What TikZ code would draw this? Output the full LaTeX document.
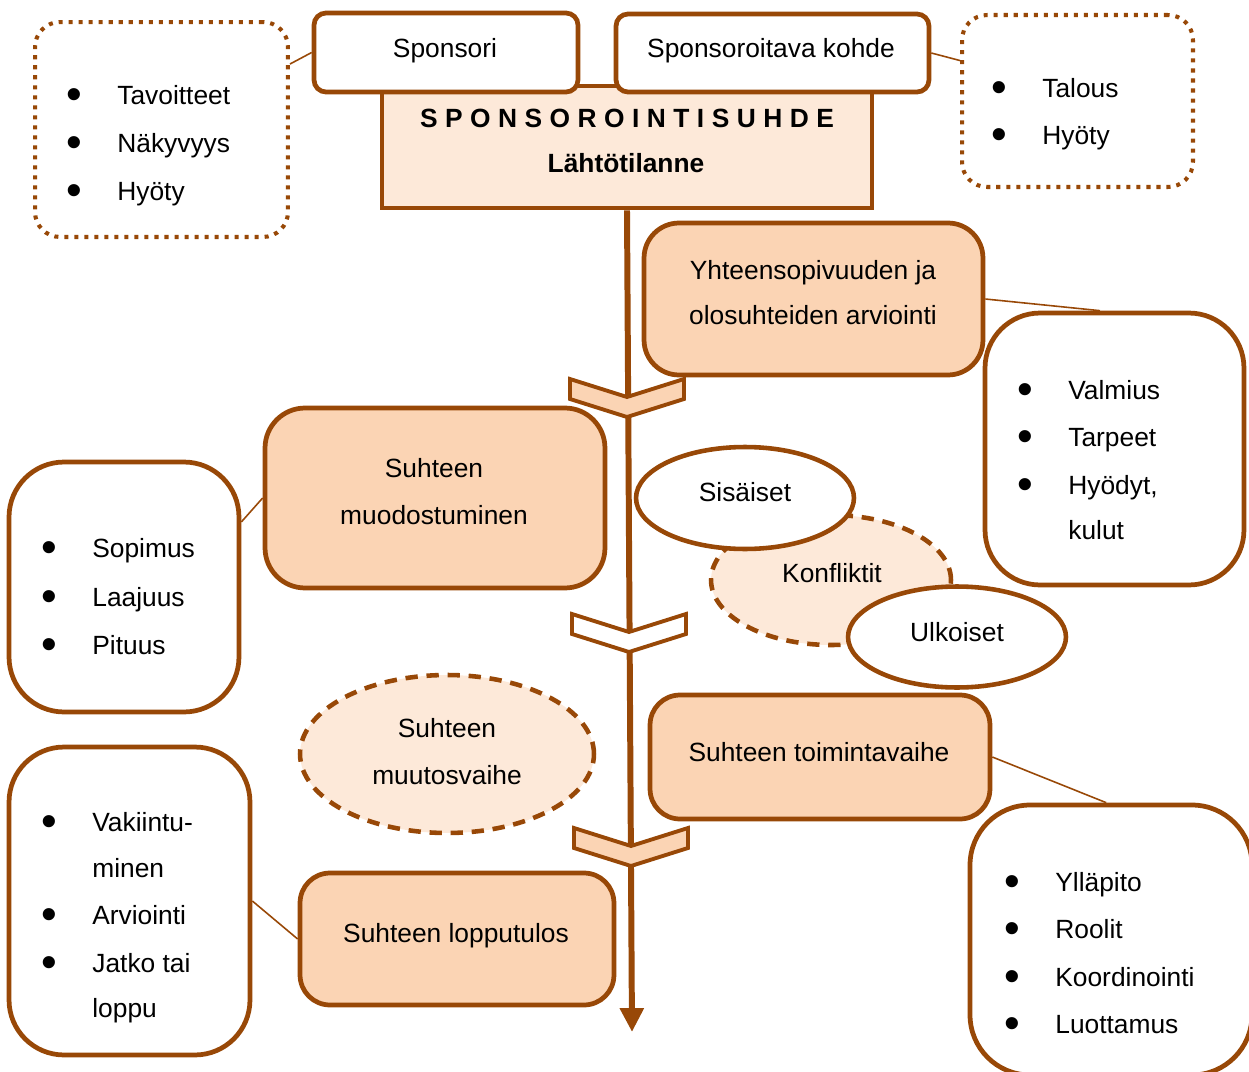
\documentclass[tikz,border=0pt]{standalone}
\usepackage{fontspec}
\setmainfont{Liberation Sans}
\usetikzlibrary{shapes.geometric,arrows.meta}
\definecolor{brn}{HTML}{984807}
\definecolor{peach}{HTML}{FBD4B4}
\definecolor{lightpeach}{HTML}{FDE9D9}
\newcommand{\mybul}{\llap{\raisebox{-0.2em}{\scalebox{1.7}{\textbullet}}\hspace{0.695cm}}}
\begin{document}
\begin{tikzpicture}[x=0.02cm,y=-0.02cm,
  font=\fontsize{15pt}{27pt}\selectfont,
  rbox/.style={rectangle,draw=brn,line width=2.7pt,inner sep=0pt},
  dotbox/.style={rectangle,draw=brn,line width=2.3pt,dash pattern=on 2.3pt off 3.4pt,rounded corners=0.5cm,inner sep=0pt,fill=white},
  dashell/.style={ellipse,draw=brn,line width=2.6pt,dash pattern=on 7pt off 5pt,fill=lightpeach,inner sep=0pt},
  solell/.style={ellipse,draw=brn,line width=2.6pt,fill=white,inner sep=0pt},
  chev/.style={draw=brn,line width=2.2pt,line join=miter},
  conn/.style={draw=brn,line width=0.9pt},
  mainarrow/.style={draw=brn,line width=3.4pt,-{Triangle[length=13.6pt,width=13pt]}},
  item/.style={anchor=base west,inner sep=0pt},
  lbl/.style={anchor=base,inner sep=0pt}]
\useasboundingbox (0,0) rectangle (1249,1072);
\clip (0,0) rectangle (1249,1072);

% top dotted boxes
\node[dotbox,minimum width=5.06cm,minimum height=4.3cm] (dotL) at (161.5,129.5) {};
\node[dotbox,minimum width=4.62cm,minimum height=3.44cm] (dotR) at (1077.5,101) {};

% main box and top boxes
\node[rbox,fill=lightpeach,minimum width=9.8cm,minimum height=2.44cm] (main) at (627,147) {};
\node[rbox,fill=white,rounded corners=0.24cm,minimum width=5.28cm,minimum height=1.58cm] (spons) at (446,52.5) {};
\node[rbox,fill=white,rounded corners=0.24cm,minimum width=6.26cm,minimum height=1.56cm] (kohde) at (772.5,53) {};

% main vertical arrow
\coordinate (arrEnd) at (632,1032);
\draw[mainarrow] (main.south) -- (arrEnd);

% chevrons
\draw[chev,fill=peach] (570,379) -- (627,397) -- (684,379) -- (684,399) -- (627,417) -- (570,399) -- cycle;
\draw[chev,fill=white] (572,614) -- (629,632) -- (686,614) -- (686,634) -- (629,652) -- (572,634) -- cycle;
\draw[chev,fill=peach] (574,828) -- (631,846) -- (688,828) -- (688,848) -- (631,866) -- (574,848) -- cycle;

% phase boxes
\node[rbox,fill=peach,rounded corners=0.7cm,minimum width=6.78cm,minimum height=3.04cm] (yht) at (813.5,299) {};
\node[rbox,fill=peach,rounded corners=0.8cm,minimum width=6.8cm,minimum height=3.6cm] (muod) at (435,498) {};
\node[rbox,fill=peach,rounded corners=0.6cm,minimum width=6.8cm,minimum height=2.48cm] (toim) at (820,757) {};
\node[rbox,fill=peach,rounded corners=0.6cm,minimum width=6.28cm,minimum height=2.64cm] (lopp) at (457,939) {};

% bullet boxes
\node[rbox,fill=white,rounded corners=1.1cm,minimum width=5.18cm,minimum height=5.44cm] (valm) at (1114.5,449) {};
\node[rbox,fill=white,rounded corners=1.1cm,minimum width=4.6cm,minimum height=5.0cm] (sopi) at (124,587) {};
\node[rbox,fill=white,rounded corners=1.2cm,minimum width=5.64cm,minimum height=5.4cm] (ylla) at (1111,940) {};
\node[rbox,fill=white,rounded corners=1.1cm,minimum width=4.82cm,minimum height=6.16cm] (vaki) at (129.5,901) {};

% ellipses
\node[dashell,minimum width=4.8cm,minimum height=2.6cm] (konf) at (831,580) {};
\node[solell,minimum width=4.36cm,minimum height=2.04cm] (sis) at (745,498) {};
\node[solell,minimum width=4.36cm,minimum height=2.02cm] (ulk) at (957,637) {};
\node[dashell,minimum width=5.88cm,minimum height=3.16cm] (muut) at (447,754) {};

% connectors
\draw[conn] (dotL.27.7) -- (spons.west);
\draw[conn] (kohde.east) -- (dotR.161.8);
\draw[conn] (yht.east) -- (valm.96);
\draw[conn] (sopi.29.1) -- (muod.west);
\draw[conn] (toim.east) -- (ylla.92);
\draw[conn] (vaki.east) -- (lopp.west);

% texts
\node[lbl] (tSpons) at (445,57) {Sponsori};
\node[lbl] (tKohde) at (771,57) {Sponsoroitava kohde};
\node[lbl,font=\fontsize{15pt}{27pt}\selectfont\bfseries] (tSuhde) at (627,127)
  {\makebox[8.28cm]{S\hfill P\hfill O\hfill N\hfill S\hfill O\hfill R\hfill O\hfill I\hfill N\hfill T\hfill I\hfill S\hfill U\hfill H\hfill D\hfill E}};
\node[lbl,font=\fontsize{15pt}{27pt}\selectfont\bfseries] (tLahto) at (626,172) {Lähtötilanne};

\node[lbl] (tYht1) at (813,279) {Yhteensopivuuden ja};
\node[lbl] (tYht2) at (813,324) {olosuhteiden arviointi};
\node[lbl] (tSis) at (745,501) {Sisäiset};
\node[lbl] (tKonf) at (832,582) {Konfliktit};
\node[lbl] (tUlk) at (957,641) {Ulkoiset};
\node[lbl] (tMuod1) at (434,477) {Suhteen};
\node[lbl] (tMuod2) at (434,524) {muodostuminen};
\node[lbl] (tMuut1) at (447,737) {Suhteen};
\node[lbl] (tMuut2) at (447,784) {muutosvaihe};
\node[lbl] (tToim) at (819,761) {Suhteen toimintavaihe};
\node[lbl] (tLopp) at (456,942) {Suhteen lopputulos};

% bullet lists
\node[item] (a1) at (117,104) {\mybul Tavoitteet};
\node[item] (a2) at (117,152) {\mybul Näkyvyys};
\node[item] (a3) at (117,200) {\mybul Hyöty};

\node[item] (b1) at (1042,97) {\mybul Talous};
\node[item] (b2) at (1042,144) {\mybul Hyöty};

\node[item] (c1) at (1068,399) {\mybul Valmius};
\node[item] (c2) at (1068,446) {\mybul Tarpeet};
\node[item] (c3) at (1068,494) {\mybul Hyödyt,};
\node[item] (c4) at (1068,539) {kulut};

\node[item] (d1) at (92,557) {\mybul Sopimus};
\node[item] (d2) at (92,606) {\mybul Laajuus};
\node[item] (d3) at (92,654) {\mybul Pituus};

\node[item] (e1) at (92,831) {\mybul Vakiintu-};
\node[item] (e2) at (92,877) {minen};
\node[item] (e3) at (92,924) {\mybul Arviointi};
\node[item] (e4) at (92,972) {\mybul Jatko tai};
\node[item] (e5) at (92,1017) {loppu};

\node[item] (f1) at (1055,891) {\mybul Ylläpito};
\node[item] (f2) at (1055,938) {\mybul Roolit};
\node[item] (f3) at (1055,986) {\mybul Koordinointi};
\node[item] (f4) at (1055,1033) {\mybul Luottamus};
\end{tikzpicture}
\end{document}
